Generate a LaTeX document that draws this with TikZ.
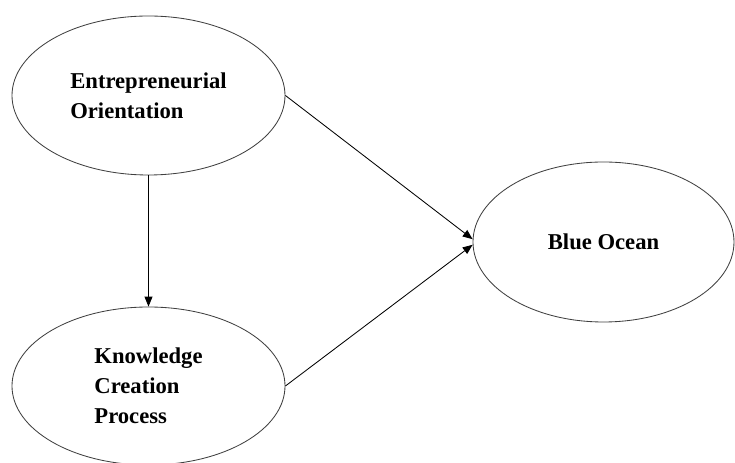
\documentclass[tikz,border=0pt]{standalone}
\usepackage{fontspec}
\setmainfont{Liberation Serif}
\usetikzlibrary{shapes.geometric,arrows.meta}
\begin{document}
\begin{tikzpicture}[
	construct/.style={draw=black!75,line width=0.6pt,ellipse,inner sep=0pt,align=left,
		font=\fontsize{16.1}{21.3}\selectfont\bfseries},
	link/.style={line width=0.6pt,-{Triangle[length=7pt,width=5.6pt]}}]

	\useasboundingbox (0,0) rectangle (18.375,11.575);

	\node[construct,minimum width=6.825cm,minimum height=3.975cm] (EO) at (3.7125,9.1875) {Entrepreneurial\\Orientation};
	\node[construct,minimum width=6.825cm,minimum height=3.95cm] (KCP) at (3.7125,1.925) {Knowledge\\Creation\\Process};
	\node[construct,minimum width=6.525cm,minimum height=4cm] (BO) at (15.0875,5.525) {Blue Ocean};

	\draw[link] (EO.south) -- (KCP.north);
	\draw[link] (EO.east) -- ([yshift=2pt]BO.west);
	\draw[link] (KCP.east) -- ([yshift=-2pt]BO.west);
\end{tikzpicture}
\end{document}
